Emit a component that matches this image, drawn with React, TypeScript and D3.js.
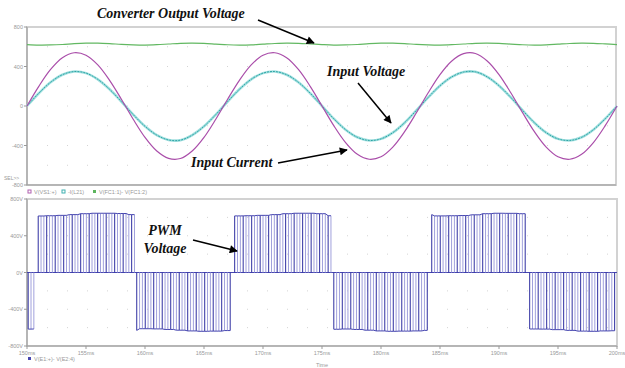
import React from "react"
import * as d3 from "d3"

// sample grid, one point per ms
const timeMs = d3.range(150, 201, 1)

// input current (magenta)
const inputCurrent = [0, 199, 370, 489, 539, 514, 416, 260, 68, -134, -318, -456, -530, -532, -456, -318, -134, 68, 260, 416, 514, 539, 489, 370, 199, 0,
  -199, -370, -489, -539, -514, -416, -260, -68, 134, 318, 456, 530, 532, 456, 318, 134, -68, -260, -416, -514, -539, -489, -370, -199, 0]
// input voltage (cyan)
const inputVoltage = [0, 129, 240, 317, 349, 333, 270, 169, 44, -87, -206, -295, -344, -346, -295, -206, -87, 44, 169, 270, 333, 349, 317, 240, 129, 0,
  -129, -240, -317, -349, -333, -270, -169, -44, 87, 206, 295, 344, 346, 295, 206, 87, -44, -169, -270, -333, -349, -317, -240, -129, 0]
// converter output voltage (green)
const outputVoltage = [622, 617, 618, 623, 631, 636, 637, 632, 624, 619, 617, 621, 628, 635, 637, 634, 627, 620, 617, 619, 626, 633, 637, 635, 629, 622,
  617, 618, 623, 631, 636, 637, 632, 624, 619, 617, 621, 628, 635, 637, 634, 627, 620, 617, 619, 626, 633, 637, 635, 629, 622]

// PWM half cycles
const pwmStart = [150, 150.85, 159.2, 167.5, 175.9, 184.2, 192.5]
const pwmEnd = [150.85, 159.2, 167.5, 175.9, 184.2, 192.5, 200]
const pwmSign = [-1, 1, -1, 1, -1, 1, -1]
const switchPeriodMs = 0.24
// pulse height per ms (V)
const pwmEnvelope = [616, 615, 618, 622, 630, 640, 645, 645, 642, 630,
  612, 614, 620, 628, 636, 640, 638, 632,
  616, 618, 622, 630, 640, 645, 645, 640, 618,
  615, 620, 628, 636, 640, 638, 636, 630,
  616, 618, 620, 628, 640, 645, 644, 640,
  615, 616, 622, 630, 638, 640, 636, 634]

const topTicks = [800, 400, 0, -400, -800]
const topTickLabels = ["800", "400", "0", "-400", "-800"]
const botTickLabels = ["800V", "400V", "0V", "-400V", "-800V"]
const timeTicks = [150, 155, 160, 165, 170, 175, 180, 185, 190, 195, 200]

const W = 625, H = 368
const x = d3.scaleLinear().domain([150, 200]).range([27, 617])
const yTop = d3.scaleLinear().domain([-800, 800]).range([185, 27])
const yBot = d3.scaleLinear().domain([-800, 800]).range([346, 199])

const gridVals = [600, 400, 200, 0, -200, -400, -600]

function App() {
  const lineTop = (vals: number[]) =>
    d3.line<number>().x((_, i) => x(timeMs[i])).y(d => yTop(d)).curve(d3.curveCatmullRom)(vals) || ""

  // pulses
  const pulses: { t: number, v: number, k: number }[] = []
  const tops: { pts: [number, number][] }[] = []
  pwmStart.forEach((s, h) => {
    const ts = d3.range(s + 0.1, pwmEnd[h] - 0.05, switchPeriodMs)
    const pts: [number, number][] = []
    ts.forEach((t, k) => {
      const v = pwmSign[h] * pwmEnvelope[Math.round(t - 150)]
      pulses.push({ t, v, k })
      pts.push([x(t), yBot(v)])
    })
    tops.push({ pts })
  })

  const font = "Liberation Sans, Arial, sans-serif"
  const ann = "Liberation Serif, Times New Roman, serif"

  return (
    <svg width={W} height={H} style={{ position: "absolute", left: 0, top: 0, background: "#fff" }}>
      <defs>
        <marker id="ah" viewBox="0 0 10 10" refX="9" refY="5" markerWidth="9" markerHeight="8" orient="auto" markerUnits="userSpaceOnUse">
          <path d="M0,0 L10,5 L0,10 z" fill="#000" />
        </marker>
      </defs>

      {/* top panel */}
      <rect x={27} y={27} width={589} height={158} fill="none" stroke="#d2d2d2" strokeWidth={2} />
      {gridVals.map(v => (
        <line key={"gt" + v} x1={27} x2={616} y1={yTop(v)} y2={yTop(v)} stroke="#d4d4d4" strokeDasharray="1,19" />
      ))}
      <line x1={27} x2={27} y1={27} y2={185} stroke="#999" />
      <line x1={27} x2={616} y1={185} y2={185} stroke="#999" />
      {topTicks.map((v, i) => (
        <g key={"tt" + v}>
          <line x1={24} x2={27} y1={yTop(v)} y2={yTop(v)} stroke="#999" />
          <text x={23} y={yTop(v) + 2} fontSize={5.5} fill="#999" textAnchor="end" fontFamily={font}>{topTickLabels[i]}</text>
        </g>
      ))}
      <text x={4} y={180} fontSize={5} fill="#999" fontFamily={font}>SEL&gt;&gt;</text>

      <path d={lineTop(outputVoltage)} fill="none" stroke="#62b862" strokeWidth={1.2} />
      <path d={lineTop(inputVoltage)} fill="none" stroke="#a3e0e0" strokeWidth={2.6} />
      <path d={lineTop(inputVoltage)} fill="none" stroke="#2fa6a6" strokeWidth={1} strokeDasharray="2,1" />
      <path d={lineTop(inputCurrent)} fill="none" stroke="#aa4eaa" strokeWidth={1.2} />

      {/* legend top */}
      <g fontSize={5.5} fill="#999" fontFamily={font}>
        <rect x={28} y={190} width={3} height={3} fill="none" stroke="#b060b0" />
        <text x={34} y={194}>V(VS1:+)</text>
        <rect x={62} y={190} width={3} height={3} fill="none" stroke="#40b0b0" />
        <text x={68} y={194}>-I(L21)</text>
        <rect x={93} y={190} width={3} height={3} fill="#5db55d" />
        <text x={99} y={194}>V(FC1:1)- V(FC1:2)</text>
      </g>

      {/* bottom panel */}
      <rect x={27} y={199} width={590} height={147} fill="none" stroke="#d2d2d2" strokeWidth={2} />
      {gridVals.map(v => (
        <line key={"gb" + v} x1={27} x2={617} y1={yBot(v)} y2={yBot(v)} stroke="#d4d4d4" strokeDasharray="1,19" />
      ))}
      <line x1={27} x2={27} y1={199} y2={346} stroke="#999" />
      <line x1={27} x2={617} y1={346} y2={346} stroke="#999" />
      {topTicks.map((v, i) => (
        <g key={"bt" + v}>
          <line x1={24} x2={27} y1={yBot(v)} y2={yBot(v)} stroke="#999" />
          <text x={23} y={yBot(v) + 2} fontSize={5.5} fill="#999" textAnchor="end" fontFamily={font}>{botTickLabels[i]}</text>
        </g>
      ))}
      {timeTicks.map(t => (
        <g key={"xt" + t}>
          <line x1={x(t)} x2={x(t)} y1={346} y2={349} stroke="#999" />
          <text x={x(t)} y={355} fontSize={5.5} fill="#999" textAnchor="middle" fontFamily={font}>{t}ms</text>
        </g>
      ))}

      <line x1={x(150)} x2={x(200)} y1={yBot(0)} y2={yBot(0)} stroke="#4646b0" strokeWidth={1} />
      {pulses.map((p, i) => (
        <line key={"p" + i} x1={x(p.t)} x2={x(p.t)} y1={yBot(0)} y2={yBot(p.v)}
          stroke={p.k % 3 === 0 ? "#2e2ea0" : "#a0a0dc"} strokeWidth={1} />
      ))}
      {tops.map((tp, i) => (
        <path key={"tp" + i} d={d3.line()(tp.pts) || ""} fill="none" stroke="#4646b0" strokeWidth={1} />
      ))}

      <g fontSize={5.5} fill="#999" fontFamily={font}>
        <rect x={28} y={357} width={3} height={3} fill="#4646b0" />
        <text x={34} y={361}>V(E1:+)- V(E2:4)</text>
        <text x={322} y={367} textAnchor="middle">Time</text>
      </g>

      {/* annotations */}
      <g fontFamily={ann} fontStyle="italic" fontWeight="bold" fontSize={14} fill="#111">
        <text x={97} y={18}>Converter Output Voltage</text>
        <text x={327} y={76}>Input Voltage</text>
        <text x={191} y={167}>Input  Current</text>
        <text x={165} y={235} textAnchor="middle">PWM</text>
        <text x={165} y={253} textAnchor="middle">Voltage</text>
      </g>
      <g stroke="#000" strokeWidth={1.5}>
        <line x1={258} y1={20} x2={314} y2={43} markerEnd="url(#ah)" />
        <line x1={358} y1={83} x2={391} y2={123} markerEnd="url(#ah)" />
        <line x1={278} y1={163} x2={347} y2={150} markerEnd="url(#ah)" />
        <line x1={193} y1={240} x2={237} y2={251} markerEnd="url(#ah)" />
      </g>
    </svg>
  )
}

export default App
